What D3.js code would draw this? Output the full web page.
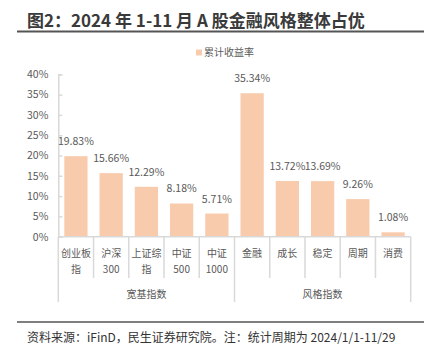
<!DOCTYPE html>
<html><head><meta charset="utf-8">
<script src="https://cdn.jsdelivr.net/npm/d3@7"></script>
<style>
html,body{margin:0;padding:0;background:#fff;}
svg{display:block;}
text{font-family:"Noto Sans CJK SC","Noto Sans",sans-serif;}
</style></head>
<body>
<svg id="chart" width="432" height="354"></svg>
<script>
const title = "图2：2024 年 1-11 月 A 股金融风格整体占优";
const source = "资料来源：iFinD，民生证券研究院。注：统计周期为 2024/1/1-11/29";
const seriesName = "累计收益率";
const categories = ["创业板指","沪深300","上证综指","中证500","中证1000","金融","成长","稳定","周期","消费"];
const categoryLines = [["创业板","指"],["沪深","300"],["上证综","指"],["中证","500"],["中证","1000"],["金融"],["成长"],["稳定"],["周期"],["消费"]];
const values = [19.83,15.66,12.29,8.18,5.71,35.34,13.72,13.69,9.26,1.08];
const groupNames = ["宽基指数","风格指数"];
const groupSizes = [5,5];
const yTicks = [0,5,10,15,20,25,30,35,40];

const svg = d3.select("#chart");
const txt = "#595959", axisCol = "#d9d9d9", barCol = "#F8CBAD";

// title
svg.append("text").attr("x",27).attr("y",27).attr("font-size",17).attr("font-weight","bold")
  .attr("fill","#3a3a3a").text(title);
svg.append("line").attr("x1",17).attr("x2",424).attr("y1",31.5).attr("y2",31.5)
  .attr("stroke","#555").attr("stroke-width",2);

// legend
svg.append("rect").attr("x",196).attr("y",49.5).attr("width",6).attr("height",6).attr("fill",barCol);
svg.append("text").attr("x",204).attr("y",56).attr("font-size",10).attr("fill",txt).text(seriesName);

const x = d3.scaleBand().domain(categories).range([58.3,410.7]).paddingInner(0.34).paddingOuter(0.17);
const y = d3.scaleLinear().domain([0,40]).range([236.7,74.3]);

// y axis
const ya = svg.append("g").attr("transform","translate(58.3,0)")
  .call(d3.axisLeft(y).tickValues(yTicks).tickFormat(d=>d+"%").tickSize(-4).tickPadding(10));
ya.select(".domain").attr("stroke",axisCol).attr("stroke-width",1.5);
ya.selectAll(".tick line").attr("stroke",axisCol).attr("stroke-width",1.5);
ya.selectAll(".tick text").attr("font-size",10.5).attr("fill",txt)
  .attr("font-family","\"Noto Sans CJK SC\",sans-serif");

// bars
svg.append("g").selectAll("rect").data(values).join("rect")
  .attr("x",(d,i)=>x(categories[i])).attr("width",x.bandwidth())
  .attr("y",d=>y(d)).attr("height",d=>y(0)-y(d)).attr("fill",barCol);

// value labels
svg.append("g").selectAll("text").data(values).join("text")
  .attr("x",(d,i)=>x(categories[i])+x.bandwidth()/2).attr("y",d=>y(d)-11)
  .attr("text-anchor","middle").attr("font-size",10.5).attr("fill",txt)
  .text(d=>d.toFixed(2)+"%");

// category axis
const x0 = 58.3, x1 = 410.7;
svg.append("line").attr("x1",x0).attr("x2",x1).attr("y1",y(0)).attr("y2",y(0))
  .attr("stroke",axisCol).attr("stroke-width",1.5);
const groupBounds = [0];
groupSizes.forEach(s=>groupBounds.push(groupBounds[groupBounds.length-1]+s));
for(let i=0;i<=categories.length;i++){
  const xx = x0 + i*(x1-x0)/categories.length;
  const isGroup = groupBounds.includes(i);
  svg.append("line").attr("x1",xx).attr("x2",xx).attr("y1",y(0)).attr("y2",isGroup?302:278)
    .attr("stroke",axisCol).attr("stroke-width",1.5);
}
categoryLines.forEach((lines,i)=>{
  const cx = x(categories[i])+x.bandwidth()/2;
  lines.forEach((l,j)=>{
    svg.append("text").attr("x",cx).attr("y",257+j*16).attr("text-anchor","middle")
      .attr("font-size",10).attr("fill",txt).text(l);
  });
});
groupNames.forEach((g,k)=>{
  const a = x0 + groupBounds[k]*(x1-x0)/categories.length;
  const b = x0 + groupBounds[k+1]*(x1-x0)/categories.length;
  svg.append("text").attr("x",(a+b)/2).attr("y",297.5).attr("text-anchor","middle")
    .attr("font-size",10).attr("fill",txt).text(g);
});

// bottom rule + source
svg.append("line").attr("x1",17).attr("x2",424).attr("y1",322).attr("y2",322)
  .attr("stroke","#555").attr("stroke-width",1.5);
svg.append("text").attr("x",27).attr("y",342).attr("font-size",12).attr("fill","#333").text(source);
</script>
</body></html>
